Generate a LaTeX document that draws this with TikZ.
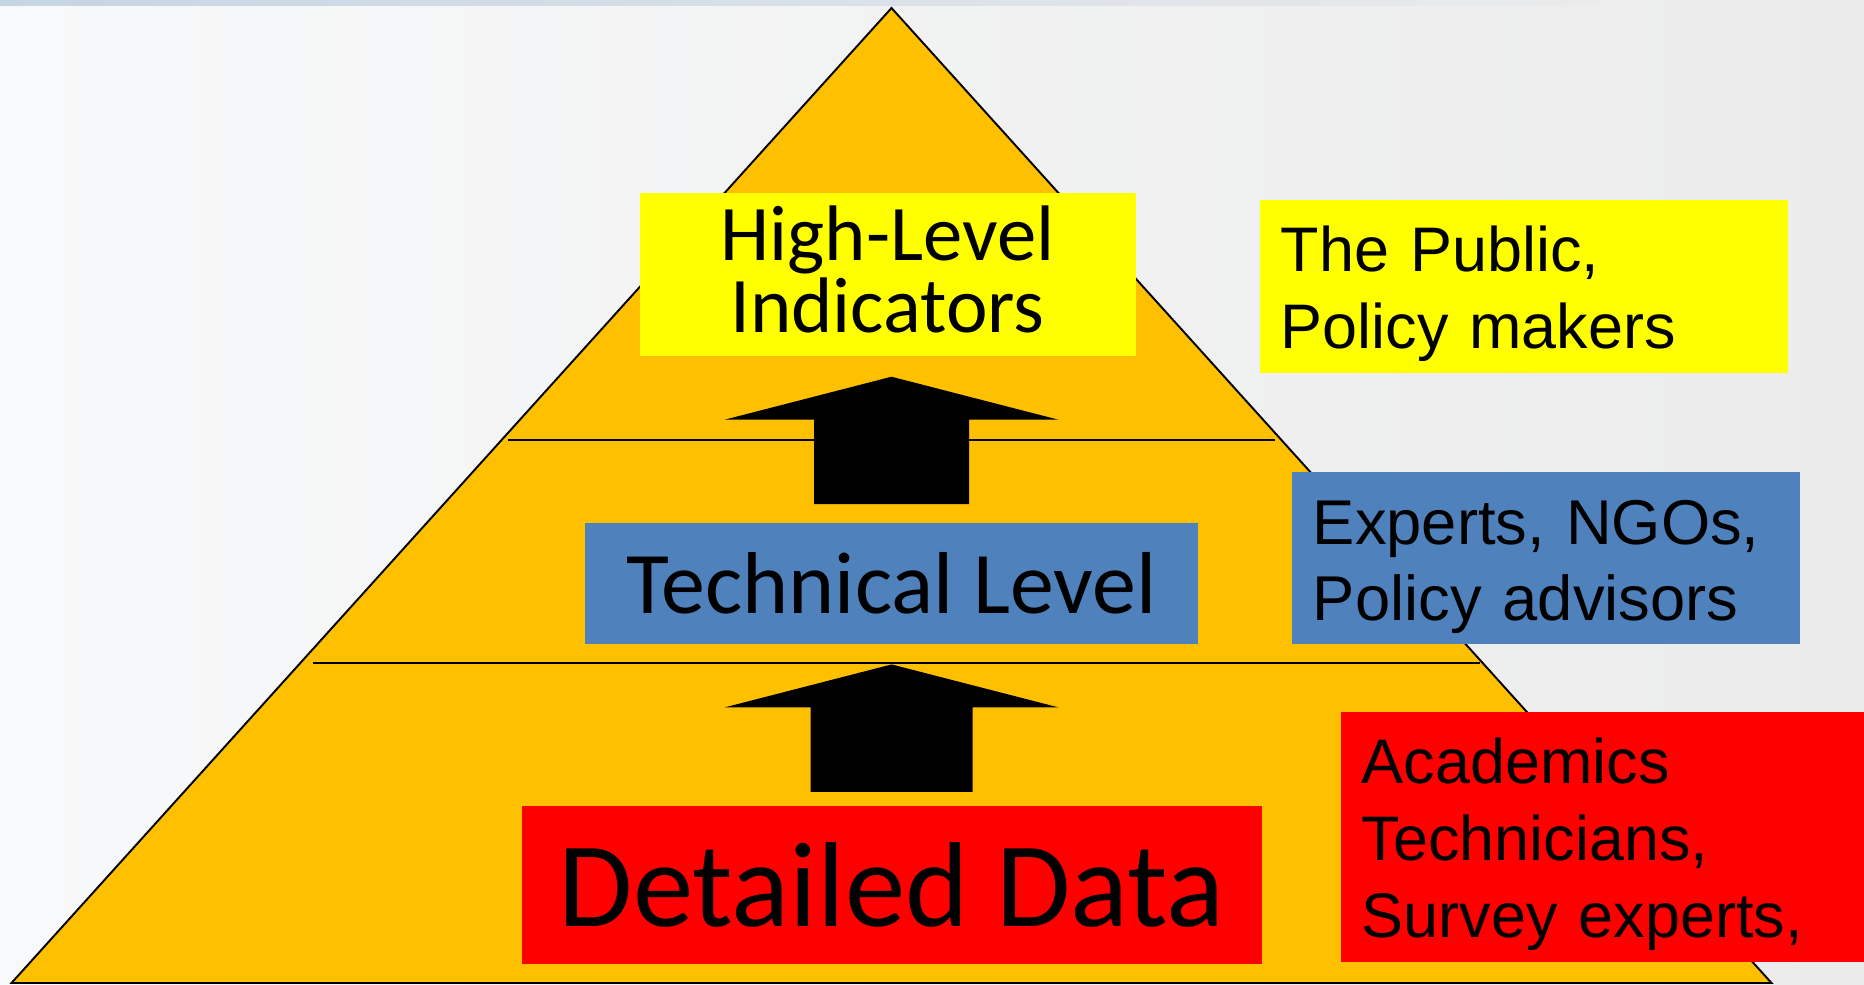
\documentclass[tikz,border=0pt]{standalone}
\usepackage{xcolor}
\usepackage{fontspec}
\setmainfont{Carlito}
\newfontfamily\arialfont{Liberation Sans}
\usetikzlibrary{calc}

\definecolor{pyramid orange}{HTML}{FFC000}
\definecolor{level yellow}{HTML}{FFFF00}
\definecolor{level blue}{HTML}{4F81BD}
\definecolor{level red}{HTML}{FF0000}
\definecolor{back left}{HTML}{F8F9FA}
\definecolor{back right}{HTML}{EBEBEB}
\definecolor{strip blue}{HTML}{C6D5E4}

\tikzset{
	level box/.style = {rectangle, inner sep = 0pt, align = center},
	group box/.style = {rectangle, inner xsep = 0.21cm, inner ysep = 0pt, align = left},
	group text/.style = {font = \arialfont\fontsize{17.9}{21.9}\selectfont},
}

\begin{document}
\begin{tikzpicture}[x = 0.01cm, y = -0.01cm]
		\def\halfbase{880};
		\def\headwidth{167};
		\def\headheight{43};
		
		% background and the thin strip along the top
		\shade [left color = back left, right color = back right] (0,0) rectangle (1864,984);
		\shade [left color = strip blue, right color = back right] (0,0) rectangle (1600,5);
		\useasboundingbox (0,0) rectangle (1864,984);
		
		\coordinate(apex) at (891.5,8);
		\coordinate(base left) at ($ (apex) + (-\halfbase,975) $);
		\coordinate(base right) at ($ (apex) + (\halfbase,975) $);
		
		\filldraw [fill = pyramid orange, line width = 0.55pt] (apex) -- (base left) -- (base right) -- cycle;
		\draw [line width = 0.6pt] (508,440) -- (1275,440);
		\draw [line width = 0.6pt] (313,663) -- (1480,663);
		
		% levels inside the pyramid
		\node [level box, fill = level yellow, minimum width = 4.957cm, minimum height = 1.629cm,
			font = \fontsize{22.4}{20.4}\selectfont] (high level) at (887.5,274) {High-Level\\Indicators\rule[-0.1cm]{0pt}{0.1cm}};
		\node [level box, fill = level blue, minimum width = 6.134cm, minimum height = 1.213cm,
			font = \fontsize{25}{30}\selectfont] (technical) at (891.6,583.7) {Technical Level};
		\node [level box, fill = level red, minimum width = 7.394cm, minimum height = 1.58cm,
			font = \fontsize{34.4}{40}\selectfont] (detailed) at (891.6,885) {Detailed Data};
		
		% who uses each level
		\node [group box, group text, fill = level yellow, text width = 4.858cm, minimum height = 1.727cm]
			(public) at (1523.7,286.3) {\rule{0pt}{0.6cm}The Public,\\Policy makers};
		\node [group box, group text, fill = level blue, text width = 4.66cm, minimum height = 1.723cm,
			font = \arialfont\fontsize{18}{21.5}\selectfont] (experts) at (1546,558.2) {\rule{0pt}{0.62cm}Experts, NGOs,\\Policy advisors};
		\node [group box, group text, fill = level red, text width = 4.81cm, minimum height = 2.497cm]
			(academics) at (1602.5,836.9) {\rule{0pt}{0.6cm}Academics\\Technicians,\\Survey experts,};
		
		% block arrows between the levels
		\coordinate(upper tip) at ($ (high level.south) + (4,20.5) $);
		\coordinate(lower tip) at ($ (technical.south) + (0,19.3) $);
		
		\fill (upper tip) -- ++(\headwidth,\headheight) -- ++(-89.5,0) -- ++(0,84.5) -- ++(-155,0)
			-- ++(0,-84.5) -- ++(-89.5,0) -- cycle;
		\fill (lower tip) -- ++(\headwidth,\headheight) -- ++(-86,0) -- ++(0,84.5) -- ++(-162,0)
			-- ++(0,-84.5) -- ++(-86,0) -- cycle;
	\end{tikzpicture}
\end{document}
